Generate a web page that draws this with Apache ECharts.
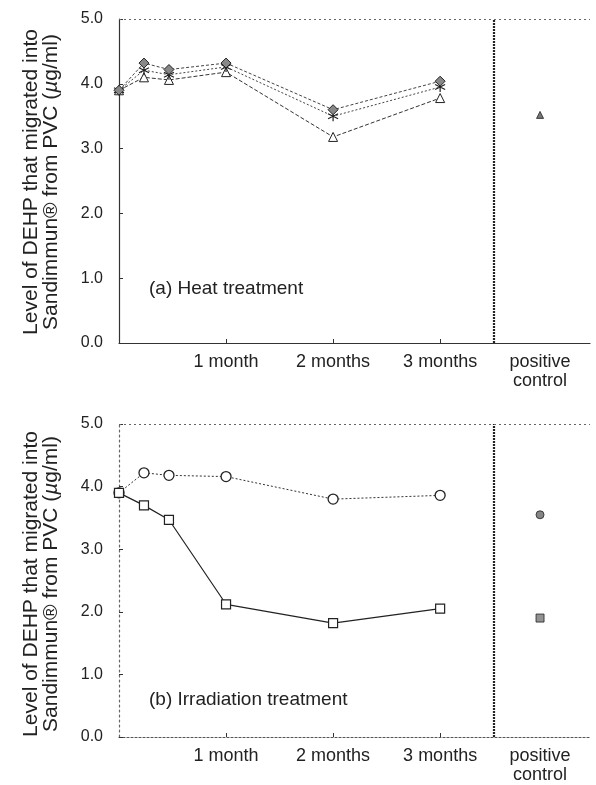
<!DOCTYPE html>
<html><head><meta charset="utf-8">
<script src="https://cdn.jsdelivr.net/npm/echarts@6/dist/echarts.min.js"></script>
<style>html,body{margin:0;padding:0;background:#fff}#c{width:596px;height:785px}</style>
</head><body><div id="c"></div>
<script>
// ---- data ----
const days = [0, 7, 14, 30, 60, 90];
const monthTicks = [30, 60, 90];
const monthLabels = ['1 month', '2 months', '3 months'];
const controlDay = 118;
const controlLabel = 'positive\ncontrol';
const dividerDay = 105;
const yNameLine1 = 'Level of DEHP that migrated into';
const yNameLine2 = '{a|Sandimmun® from PVC (}{i|µ}{a|g/ml)}';
const panelTitles = ['(a) Heat treatment', '(b) Irradiation treatment'];

const heatDiamond  = [3.90, 4.32, 4.22, 4.32, 3.60, 4.04];
const heatStar     = [3.90, 4.21, 4.14, 4.26, 3.50, 3.95];
const heatTriangle = [3.90, 4.10, 4.06, 4.18, 3.18, 3.78];
const heatControlTriangle = [3.52];

const irrCircle = [3.90, 4.22, 4.18, 4.16, 3.80, 3.86];
const irrSquare = [3.90, 3.70, 3.47, 2.12, 1.82, 2.05];
const irrControlCircle = [3.55];
const irrControlSquare = [1.90];

// ---- helpers ----
const pair = (xs, ys) => xs.map((x, i) => [x, ys[i]]);
const ctrl = (ys) => ys.map(y => [controlDay, y]);
const FONT = '"Liberation Sans", Arial, sans-serif';
const TXT = '#222';
const starPath = 'path://M0,-10L0,10M-8.7,-5L8.7,5M-8.7,5L8.7,-5';

const tickVals = monthTicks.concat([controlDay]);
const labelFor = v => {
  const i = monthTicks.indexOf(v);
  return i >= 0 ? monthLabels[i] : (v === controlDay ? controlLabel : '');
};

function xAxis(gi, lineType, lineColor) {
  return {
    type: 'value', gridIndex: gi, min: 0, max: 132,
    axisLine: { show: true, lineStyle: { color: lineColor, width: 1.2, type: lineType } },
    axisTick: { show: true, inside: true, length: 4, customValues: monthTicks, lineStyle: { color: '#333' } },
    axisLabel: { customValues: tickVals, formatter: labelFor, color: TXT, fontFamily: FONT, fontSize: 18, margin: 10, lineHeight: 19 },
    splitLine: { show: false }
  };
}
function yAxis(gi, lineType, lineColor) {
  return {
    type: 'value', gridIndex: gi, min: 0, max: 5, interval: 1,
    axisLine: { show: true, lineStyle: { color: lineColor, width: 1.2, type: lineType } },
    axisTick: { show: true, inside: true, length: 4, lineStyle: { color: '#333' } },
    axisLabel: { formatter: v => v.toFixed(1), color: TXT, fontFamily: FONT, fontSize: 16, margin: 16 },
    splitLine: { show: false }
  };
}
function frame(xi) {
  return {
    type: 'line', xAxisIndex: xi, yAxisIndex: xi, data: [], silent: true,
    markLine: {
      symbol: 'none', silent: true, label: { show: false }, animation: false,
      data: [
        { xAxis: dividerDay, lineStyle: { type: [2, 1], width: 2.2, color: '#222' } },
        { yAxis: 5, lineStyle: { type: [2, 3], width: 1, color: '#666' } }
      ]
    }
  };
}
function line(xi, data, symbol, opts) {
  return Object.assign({
    type: 'line', xAxisIndex: xi, yAxisIndex: xi, data: data,
    symbol: symbol, symbolSize: 9, animation: false,
    lineStyle: { color: '#333', width: 1, type: [3, 2] },
    itemStyle: { color: '#fff', borderColor: '#222', borderWidth: 1 }
  }, opts || {});
}
function yName(cy) {
  const rich = {
    a: { fontFamily: FONT, fontSize: 21, fill: TXT },
    i: { fontFamily: FONT, fontSize: 21, fill: TXT, fontStyle: 'italic' }
  };
  return [
    { type: 'text', x: 31, y: cy, rotation: Math.PI / 2,
      style: { text: yNameLine1, font: '21px ' + FONT, fill: TXT, align: 'center', verticalAlign: 'middle' } },
    { type: 'text', x: 51, y: cy, rotation: Math.PI / 2,
      style: { text: yNameLine2, font: '21px ' + FONT, fill: TXT, align: 'center', verticalAlign: 'middle', rich: rich } }
  ];
}

const chart = echarts.init(document.getElementById('c'), null, { renderer: 'canvas' });
chart.setOption({
  backgroundColor: '#fff',
  animation: false,
  grid: [
    { left: 119, top: 19, width: 471, height: 324 },
    { left: 119, top: 424, width: 471, height: 319 }
  ],
  xAxis: [xAxis(0, 'solid', '#333'), xAxis(1, [2, 2], '#555')],
  yAxis: [yAxis(0, 'solid', '#333'), yAxis(1, [2, 3], '#666')],
  graphic: [
    { type: 'text', x: 149, y: 289, style: { text: panelTitles[0], font: '19px ' + FONT, fill: TXT, verticalAlign: 'middle' } },
    { type: 'text', x: 149, y: 700, style: { text: panelTitles[1], font: '19px ' + FONT, fill: TXT, verticalAlign: 'middle' } }
  ].concat(yName(182), yName(584)),
  series: [
    frame(0), frame(1),
    line(0, pair(days, heatTriangle), 'triangle', { symbolSize: 9, lineStyle: { color: '#333', width: 1, type: [4, 2] } }),
    line(0, pair(days, heatStar), starPath, { symbolSize: 10, lineStyle: { color: '#444', width: 1, type: [2, 2] }, itemStyle: { color: '#222', borderColor: '#222', borderWidth: 1.2 } }),
    line(0, pair(days, heatDiamond), 'diamond', { symbolSize: 10, lineStyle: { color: '#444', width: 1, type: [3, 2] }, itemStyle: { color: '#888', borderColor: '#222', borderWidth: 1 } }),
    { type: 'scatter', xAxisIndex: 0, yAxisIndex: 0, data: ctrl(heatControlTriangle), symbol: 'triangle', symbolSize: 7, itemStyle: { color: '#555', borderColor: '#222', borderWidth: 1 } },

    line(1, pair(days, irrCircle), 'circle', { symbolSize: 10, lineStyle: { color: '#333', width: 1, type: [2, 2] }, itemStyle: { color: '#fff', borderColor: '#222', borderWidth: 1.3 } }),
    line(1, pair(days, irrSquare), 'rect', { symbolSize: 9, lineStyle: { color: '#222', width: 1.2, type: 'solid' }, itemStyle: { color: '#fff', borderColor: '#222', borderWidth: 1.2 } }),
    { type: 'scatter', xAxisIndex: 1, yAxisIndex: 1, data: ctrl(irrControlCircle), symbol: 'circle', symbolSize: 8, itemStyle: { color: '#666', borderColor: '#222', borderWidth: 1 } },
    { type: 'scatter', xAxisIndex: 1, yAxisIndex: 1, data: ctrl(irrControlSquare), symbol: 'rect', symbolSize: 8, itemStyle: { color: '#777', borderColor: '#222', borderWidth: 1 } }
  ]
});
</script></body></html>
